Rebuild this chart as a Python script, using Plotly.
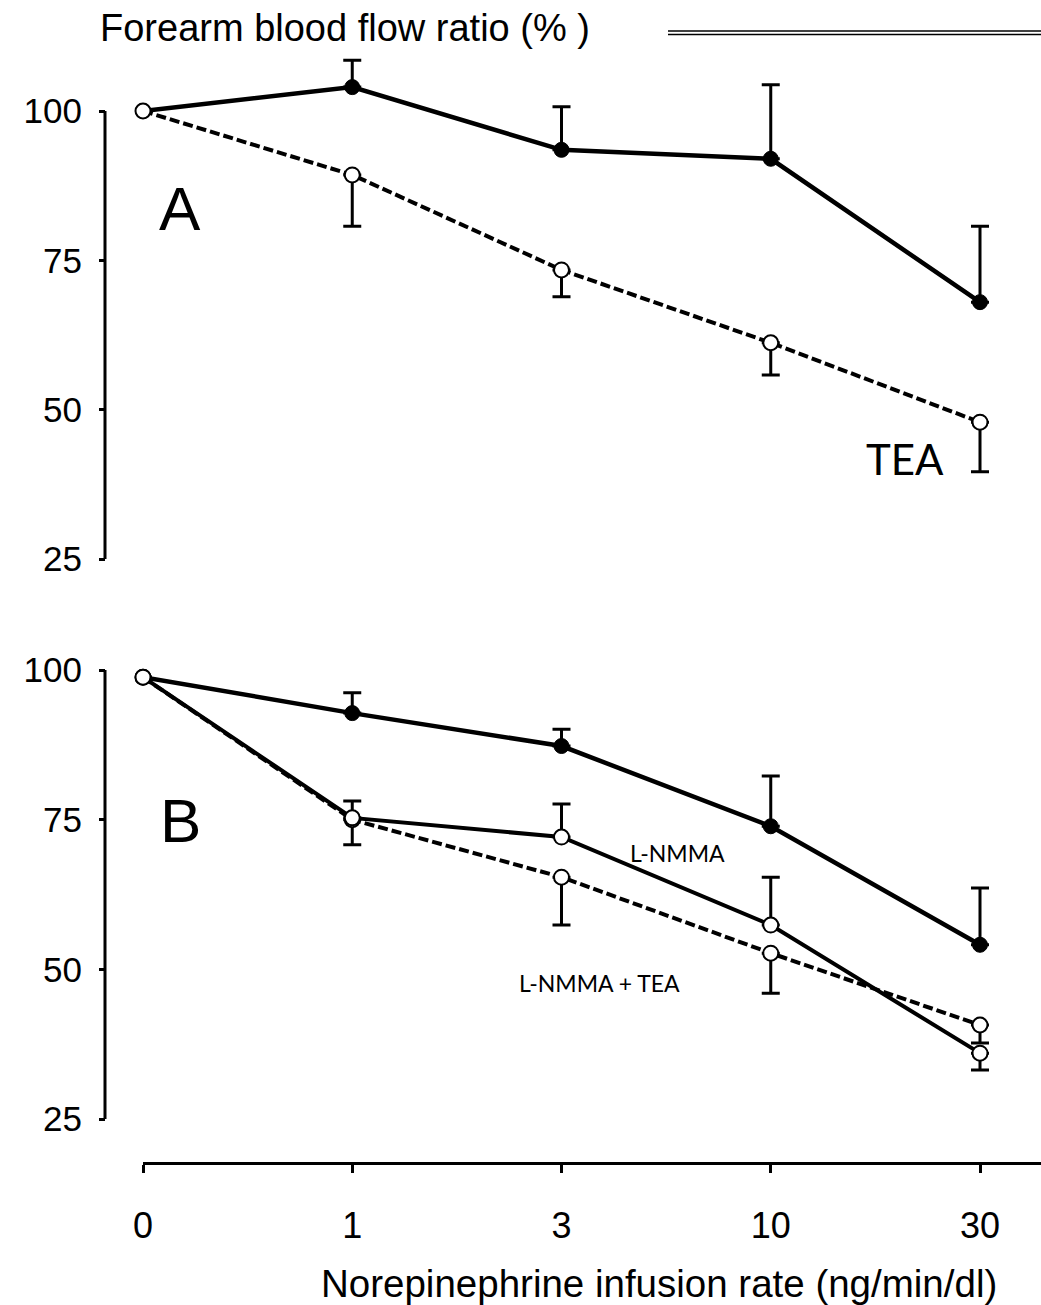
import plotly.graph_objects as go

# ---------------- data ----------------
doses = ["0", "1", "3", "10", "30"]
y_ticks = [25, 50, 75, 100]

# Panel A
a_control = [100, 104.0, 93.5, 92.0, 68.0]
a_control_err_up = [0, 4.5, 7.2, 12.4, 12.7]
a_tea = [100, 89.3, 73.4, 61.2, 47.9]
a_tea_err_down = [0, 8.6, 4.5, 5.4, 8.3]

# Panel B
b_control = [98.8, 92.8, 87.3, 73.9, 54.1]
b_control_err_up = [0, 3.4, 2.8, 8.4, 9.5]
b_lnmma = [98.8, 75.3, 72.1, 57.4, 36.0]
b_lnmma_err_up = [0, 2.8, 5.5, 8.0, 0]
b_lnmma_err_down = [0, 0, 0, 0, 2.8]
b_lnmma_tea = [98.8, 75.0, 65.4, 52.7, 40.7]
b_lnmma_tea_err_down = [0, 4.2, 8.0, 6.7, 3.0]

title_text = "Forearm blood flow ratio (% )"
xtitle_text = "Norepinephrine infusion rate (ng/min/dl)"

# ---------------- layout helpers (pixel geometry) ----------------
W, H = 1041, 1305
FONT = "Liberation Sans, Arial, sans-serif"
LABEL_FONT = "Lato, Open Sans, sans-serif"


def py(px):
    return 1 - px / H


def px_x(px):
    return px / W


# x: category 0 at px 143, spacing 209.25
x0_px, dx_px = 143, 209.25
x_range = [0, (W - x0_px) / dx_px]

# panel A: 100 at px 111, 25 at px 559
kA = (559 - 111) / 75
A_top, A_bot = 40, 600
A_range = [25 - (A_bot - 559) / kA, 100 + (111 - A_top) / kA]
# panel B: 100 at px 670, 25 at px 1119
kB = (1119 - 670) / 75
B_top, B_bot = 620, 1140
B_range = [25 - (B_bot - 1119) / kB, 100 + (670 - B_top) / kB]

fig = go.Figure()

open_marker = dict(symbol="circle", size=15, color="white", line=dict(color="black", width=2))
filled_marker = dict(symbol="circle", size=15, color="black", line=dict(color="black", width=1))
err_style = dict(color="black", thickness=3, width=9)
dash_line = dict(color="black", width=4, dash="10px,4px")
solid_line = dict(color="black", width=4.5)


def add(y, yaxis, marker, line, up=None, down=None):
    ey = dict(type="data", symmetric=False,
              array=up if up is not None else [0] * len(y),
              arrayminus=down if down is not None else [0] * len(y),
              visible=True, **err_style)
    fig.add_trace(go.Scatter(
        x=doses, y=y, xaxis="x", yaxis=yaxis, mode="lines+markers",
        marker=marker, line=line, error_y=ey, cliponaxis=False,
        showlegend=False, hoverinfo="skip"))


# Panel A
add(a_control, "y", filled_marker, solid_line, up=a_control_err_up)
add(a_tea, "y", open_marker, dash_line, down=a_tea_err_down)
# Panel B
add(b_control, "y2", filled_marker, solid_line, up=b_control_err_up)
add(b_lnmma_tea, "y2", open_marker, dash_line, down=b_lnmma_tea_err_down)
add(b_lnmma, "y2", open_marker, dict(color="black", width=4), up=b_lnmma_err_up, down=b_lnmma_err_down)

yaxis_common = dict(
    anchor="free", position=px_x(105), showline=False, showgrid=False, zeroline=False,
    automargin=False,
    ticks="outside", ticklen=6, tickwidth=3, tickcolor="black",
    tickvals=y_ticks, ticktext=[str(v) for v in y_ticks],
    tickfont=dict(family=FONT, size=35, color="black"), ticklabelstandoff=10,
)

fig.update_layout(
    width=W, height=H, margin=dict(l=0, r=0, t=0, b=0, autoexpand=False),
    paper_bgcolor="white", plot_bgcolor="white",
    xaxis=dict(
        type="category", domain=[px_x(x0_px), 1], range=x_range,
        anchor="free", position=py(1163), automargin=False,
        showline=True, linewidth=3, linecolor="black",
        showgrid=False, zeroline=False,
        ticks="outside", ticklen=8, tickwidth=3, tickcolor="black",
        tickfont=dict(family=FONT, size=36, color="black"), ticklabelstandoff=22,
    ),
    yaxis=dict(domain=[py(A_bot), py(A_top)], range=A_range, **yaxis_common),
    yaxis2=dict(domain=[py(B_bot), py(B_top)], range=B_range, **yaxis_common),
)

# y axis lines from 25 to 100
for yref in ["y", "y2"]:
    fig.add_shape(type="line", xref="paper", yref=yref, x0=px_x(105), x1=px_x(105),
                  y0=25, y1=100, line=dict(color="black", width=3))

# double line at top right
for ypx in [31, 34.5]:
    fig.add_shape(type="line", xref="paper", yref="paper", x0=px_x(668), x1=1,
                  y0=py(ypx), y1=py(ypx), line=dict(color="black", width=1.5))

ann = [
    (title_text, 98, 28, 38, FONT, "left"),
    (xtitle_text, 659, 1283, 38.5, FONT, "center"),
    ("A", 180, 209, 62, FONT, "center"),
    ("B", 180, 820, 62, FONT, "center"),
    ("TEA", 905, 459, 42, LABEL_FONT, "center"),
    ("L-NMMA", 677, 853, 23, LABEL_FONT, "center"),
    ("L-NMMA + TEA", 599, 983, 23, LABEL_FONT, "center"),
]
for text, xpx, ypx, size, fam, anc in ann:
    fig.add_annotation(text=text, xref="paper", yref="paper", x=px_x(xpx), y=py(ypx),
                       xanchor=anc, yanchor="middle", showarrow=False,
                       font=dict(family=fam, size=size, color="black"))

fig.write_html("out.html")
